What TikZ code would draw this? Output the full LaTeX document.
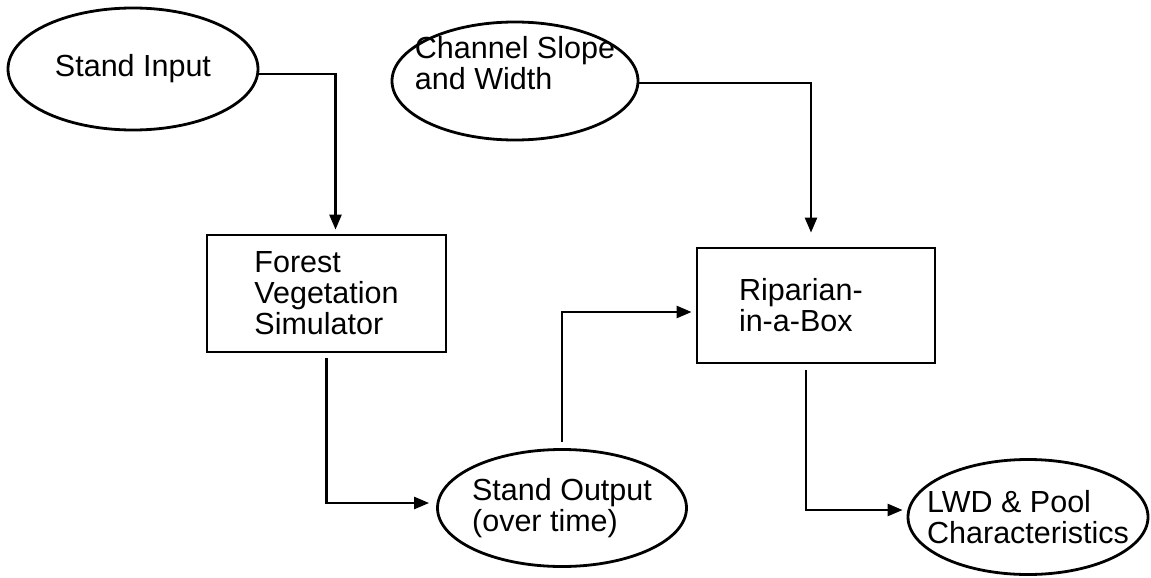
\documentclass[tikz,border=0pt]{standalone}
\usepackage{fontspec}
\setmainfont{Liberation Sans}
\usetikzlibrary{arrows.meta,shapes.geometric,positioning}

\begin{document}
\fontsize{30.5}{31}\selectfont
\begin{tikzpicture}[x = 1pt, y = -1pt]
\tikzstyle{oval}=[draw, ellipse, line width = 2.8pt, inner xsep = -20pt, inner ysep = 2pt, align = left]
\tikzstyle{blk}=[draw, rectangle, line width = 2.8pt, align = left]
\tikzstyle{arr}=[line width = 2.5pt, -{Triangle[length=15pt, width=12pt]}]

\useasboundingbox (0,0) rectangle (1151,578);

\node[oval, minimum width = 250pt, minimum height = 122pt] (SI) at (133,69) {Stand Input};
\node[oval, minimum width = 246pt, minimum height = 118pt,
  label = {[align = left, yshift = 18pt]center:{Channel Slope\\and Width}}] (CS) at (515,81) {};
\node[blk, minimum width = 239pt, minimum height = 117pt] (FVS) at (326.5,293.5) {Forest\\Vegetation\\Simulator};
\node[blk, minimum width = 238pt, minimum height = 115pt, text width = 154pt] (RB) at (816,305.5) {Riparian-\\in-a-Box};
\node[oval, minimum width = 249pt, minimum height = 117pt] (SO) at (562,508) {Stand Output\\(over time)};
\node[oval, minimum width = 240pt, minimum height = 115pt] (LWD) at (1028,517) {LWD \& Pool\\Characteristics};

\draw[arr, shorten >= 4pt] ([yshift = -5pt]SI.east) -| ([xshift = 9pt]FVS.north);
\draw[arr, shorten >= 14pt] ([yshift = -2pt]CS.east) -| ([xshift = -5pt]RB.north);
\draw[arr, shorten <= 5pt, shorten >= 7pt] (FVS.south) |- ([yshift = 5pt]SO.west);
\draw[arr, shorten <= 6pt, shorten >= 4pt] (SO.north) |- ([yshift = -6.5pt]RB.west);
\draw[arr, shorten <= 6pt, shorten >= 4pt] ([xshift = -10pt]RB.south) |- ([yshift = 7pt]LWD.west);
\end{tikzpicture}
\end{document}
